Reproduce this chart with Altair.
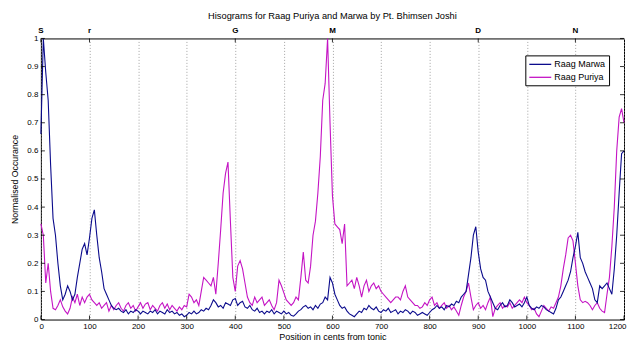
import altair as alt
import pandas as pd

# ---- data (5-cent steps from 0 to 1200) ----
cents_step = 5
marwa = [
    0.66, 1.0, 0.88, 0.78, 0.55, 0.36, 0.3, 0.2, 0.12, 0.07, 0.09, 0.12, 0.1, 0.07, 0.09, 0.15, 0.2, 0.25, 0.27, 0.23,
    0.29, 0.36, 0.39, 0.3, 0.22, 0.17, 0.11, 0.09, 0.07, 0.05, 0.04, 0.035, 0.04, 0.03, 0.025, 0.035, 0.02, 0.03, 0.025, 0.035,
    0.03, 0.02, 0.03, 0.025, 0.02, 0.03, 0.025, 0.035, 0.02, 0.03, 0.025, 0.02, 0.035, 0.025, 0.03, 0.02, 0.025, 0.015, 0.02, 0.01,
    0.015, 0.025, 0.02, 0.03, 0.02, 0.025, 0.035, 0.03, 0.04, 0.035, 0.05, 0.07, 0.06, 0.045, 0.05, 0.04, 0.06, 0.055, 0.05, 0.07,
    0.075, 0.05, 0.06, 0.065, 0.045, 0.04, 0.05, 0.035, 0.03, 0.04, 0.025, 0.03, 0.02, 0.03, 0.025, 0.035, 0.02, 0.03, 0.025, 0.02,
    0.03, 0.02, 0.025, 0.015, 0.012, 0.02, 0.03, 0.035, 0.045, 0.05, 0.04, 0.045, 0.035, 0.05, 0.04, 0.055, 0.06, 0.08, 0.07, 0.15,
    0.13, 0.09, 0.07, 0.05, 0.04, 0.045, 0.03, 0.02, 0.015, 0.01, 0.02, 0.03, 0.025, 0.04, 0.035, 0.05, 0.04, 0.035, 0.045, 0.03,
    0.025, 0.035, 0.03, 0.04, 0.025, 0.03, 0.035, 0.02, 0.03, 0.025, 0.035, 0.03, 0.02, 0.03, 0.025, 0.015, 0.02, 0.025, 0.02, 0.015,
    0.025, 0.035, 0.04, 0.05, 0.04, 0.045, 0.035, 0.05, 0.045, 0.055, 0.05, 0.065, 0.06, 0.08, 0.09, 0.1, 0.16, 0.22, 0.3, 0.33,
    0.24, 0.18, 0.15, 0.14, 0.1, 0.08, 0.06, 0.04, 0.035, 0.05, 0.06, 0.045, 0.05, 0.07, 0.06, 0.045, 0.05, 0.055, 0.045, 0.06,
    0.08, 0.05, 0.04, 0.035, 0.045, 0.04, 0.05, 0.045, 0.035, 0.03, 0.025, 0.02, 0.04, 0.07, 0.08, 0.1, 0.12, 0.14, 0.17, 0.22,
    0.26, 0.31, 0.22, 0.2, 0.17, 0.15, 0.13, 0.11, 0.07, 0.06, 0.12, 0.11, 0.12, 0.13, 0.11, 0.09, 0.18, 0.3, 0.45, 0.59,
    0.6,
]
puriya = [
    0.34, 0.3, 0.13, 0.2, 0.1, 0.04, 0.035, 0.05, 0.07, 0.045, 0.03, 0.02, 0.04, 0.08, 0.06, 0.09, 0.05, 0.08, 0.06, 0.08,
    0.09, 0.07, 0.06, 0.05, 0.06, 0.04, 0.05, 0.06, 0.03, 0.05, 0.035, 0.05, 0.06, 0.04, 0.03, 0.05, 0.06, 0.04, 0.05, 0.03,
    0.045, 0.06, 0.04, 0.055, 0.06, 0.035, 0.05, 0.04, 0.03, 0.05, 0.06, 0.04, 0.055, 0.035, 0.05, 0.04, 0.03, 0.045, 0.035, 0.05,
    0.045, 0.09, 0.08, 0.06, 0.07, 0.05, 0.1, 0.15, 0.14, 0.13, 0.12, 0.15, 0.09, 0.2, 0.32, 0.45, 0.52, 0.56, 0.35, 0.15,
    0.1, 0.19, 0.21, 0.18, 0.13, 0.08, 0.06, 0.05, 0.08, 0.06, 0.07, 0.08, 0.05, 0.06, 0.07, 0.05, 0.035, 0.06, 0.14, 0.12,
    0.095, 0.07, 0.06, 0.05, 0.06, 0.08, 0.07, 0.15, 0.24, 0.14, 0.13, 0.19, 0.3, 0.35, 0.45, 0.58, 0.78, 0.84, 1.0, 0.7,
    0.44, 0.34, 0.33, 0.32, 0.27, 0.34, 0.12, 0.13, 0.14, 0.11, 0.15, 0.12, 0.08, 0.12, 0.14, 0.1, 0.12, 0.13, 0.11, 0.12,
    0.1, 0.09, 0.08, 0.07, 0.06, 0.07, 0.08, 0.08, 0.07, 0.1, 0.12, 0.08, 0.07, 0.06, 0.05, 0.05, 0.04, 0.045, 0.06, 0.05,
    0.07, 0.08, 0.05, 0.06, 0.04, 0.05, 0.06, 0.04, 0.05, 0.035, 0.045, 0.03, 0.015, 0.05, 0.08, 0.1, 0.13, 0.08, 0.035, 0.05,
    0.06, 0.04, 0.05, 0.035, 0.06, 0.08, 0.01, 0.04, 0.05, 0.06, 0.04, 0.05, 0.045, 0.06, 0.04, 0.05, 0.06, 0.07, 0.06, 0.08,
    0.06, 0.05, 0.035, 0.04, 0.02, 0.01, 0.03, 0.05, 0.04, 0.03, 0.045, 0.04, 0.06, 0.08, 0.12, 0.18, 0.23, 0.29, 0.3, 0.28,
    0.2, 0.12, 0.07, 0.06, 0.065, 0.06, 0.05, 0.035, 0.05, 0.06, 0.04, 0.03, 0.025, 0.09, 0.15, 0.26, 0.4, 0.6, 0.72, 0.75,
    0.7,
]
series_names = ["Raag Marwa", "Raag Puriya"]
note_labels = ["S", "r", "G", "M", "D", "N"]
note_cents = [0, 100, 400, 600, 900, 1100]
x_ticks = list(range(0, 1201, 100))
y_ticks = [round(i * 0.1, 1) for i in range(11)]
chart_title = ["Hisograms for Raag Puriya and Marwa by Pt. Bhimsen Joshi"]

# ---- tables ----
df = pd.concat([
    pd.DataFrame({"cents": list(range(0, cents_step * len(marwa), cents_step)),
                  "value": marwa, "raag": series_names[0]}),
    pd.DataFrame({"cents": list(range(0, cents_step * len(puriya), cents_step)),
                  "value": puriya, "raag": series_names[1]}),
], ignore_index=True)
notes_df = pd.DataFrame({"cents": note_cents, "note": note_labels})
xt_df = pd.DataFrame({"cents": x_ticks})
yt_df = pd.DataFrame({"value": y_ticks})
title_df = pd.DataFrame({"t": chart_title})

FONT = "Liberation Sans"
W, H = 585, 282
MARWA_C = "#0b0b8c"
PURIYA_C = "#c414c4"

xscale = alt.Scale(domain=[0, 1200], nice=False, zero=False)
yscale = alt.Scale(domain=[0, 1], nice=False)

x_axis = alt.Axis(values=x_ticks, title="Position in cents from tonic", grid=True,
                  gridDash=[1, 2], gridColor="#8c8c8c", gridWidth=0.8, ticks=False,
                  domain=False, format="d", labelFontSize=8, labelPadding=3,
                  labelColor="#000", labelFont=FONT, labelFlush=True,
                  labelFlushOffset=2, labelOverlap=False, labelBound=False,
                  titleFontSize=9, titleFont=FONT, titleFontWeight="normal",
                  titleColor="#000", titlePadding=2)
y_axis = alt.Axis(values=y_ticks, title="Normalised Occurance", grid=False, ticks=False,
                  domain=False, format="~g", labelFontSize=8, labelPadding=3,
                  labelColor="#000", labelFont=FONT, labelFlush=False, labelOverlap=False,
                  labelBound=False, titleFontSize=8.8, titleFont=FONT,
                  titleFontWeight="normal", titleColor="#000", titleX=-26, titleY=H / 2,
                  titleAlign="center", titleBaseline="middle", titleAngle=270)

X = alt.X("cents:Q", scale=xscale, axis=x_axis)
Y = alt.Y("value:Q", scale=yscale, axis=y_axis)

color = alt.Color("raag:N",
                  scale=alt.Scale(domain=series_names, range=[MARWA_C, PURIYA_C]),
                  legend=alt.Legend(title=None, orient="none", legendX=486, legendY=17,
                                    symbolType="M-2.2,0H2.2", symbolSize=100,
                                    symbolOffset=6, symbolStrokeWidth=1.3,
                                    symbolFillColor="transparent",
                                    labelFontSize=9, labelFont=FONT, labelColor="#000",
                                    labelOffset=8, padding=3, rowPadding=2,
                                    strokeColor="#000", fillColor="#ffffff",
                                    cornerRadius=0))

base = alt.Chart(df)
puriya_line = base.transform_filter(alt.datum.raag == series_names[1]).mark_line(
    strokeWidth=1.1).encode(x=X, y=Y, color=color)
marwa_line = base.transform_filter(alt.datum.raag == series_names[0]).mark_line(
    strokeWidth=1.1).encode(x=X, y=Y, color=color)

tick_style = dict(color="#000", strokeWidth=0.8)
bottom_ticks = alt.Chart(xt_df).mark_rule(**tick_style).encode(
    x=X, y=alt.value(H), y2=alt.value(H - 4))
top_ticks = alt.Chart(notes_df).mark_rule(**tick_style).encode(
    x=X, y=alt.value(0), y2=alt.value(4))
left_ticks = alt.Chart(yt_df).mark_rule(**tick_style).encode(
    y=Y, x=alt.value(0), x2=alt.value(4))
right_ticks = alt.Chart(yt_df).mark_rule(**tick_style).encode(
    y=Y, x=alt.value(W), x2=alt.value(W - 4))
top_labels = alt.Chart(notes_df).mark_text(
    font=FONT, fontSize=8, fontWeight="bold", baseline="bottom", color="#000").encode(
    x=X, y=alt.value(-3), text="note:N")
title_text = alt.Chart(title_df).mark_text(
    font=FONT, fontSize=9.3, baseline="alphabetic", align="center", color="#000").encode(
    x=alt.value(W / 2), y=alt.value(-20), text="t:N")

chart = alt.layer(
    puriya_line, marwa_line, bottom_ticks, top_ticks, left_ticks, right_ticks,
    top_labels, title_text
).properties(
    width=W, height=H,
    autosize=alt.AutoSizeParams(type="none"),
    padding={"left": 33, "top": 30, "right": 3, "bottom": 22},
    background="#ffffff",
).configure_view(stroke="#000", strokeWidth=1)

chart.save("out.html", embed_options={"renderer": "svg", "actions": False})
